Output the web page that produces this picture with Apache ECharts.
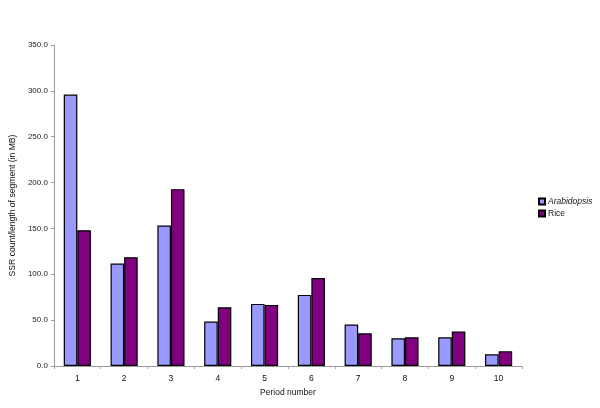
<!DOCTYPE html>
<html>
<head>
<meta charset="utf-8">
<script src="https://cdn.jsdelivr.net/npm/echarts@6/dist/echarts.min.js"></script>
<style>html,body{margin:0;padding:0;background:#fff;}#c{width:600px;height:408px;}</style>
</head>
<body>
<div id="c"></div>
<script>
var categories = ['1','2','3','4','5','6','7','8','9','10'];
var arabidopsis = [296, 111.7, 153.2, 48.4, 67.7, 77.5, 45.2, 30.2, 31.3, 12.8];
var rice = [148, 118.6, 192.8, 64, 66.6, 96, 35.7, 31.3, 37.5, 16];
var yTicks = [0, 50, 100, 150, 200, 250, 300, 350];
var seriesNames = ['Arabidopsis', 'Rice'];

var font = 'Liberation Sans, Helvetica, Arial, sans-serif';
var chart = echarts.init(document.getElementById('c'), null, {renderer: 'canvas'});
chart.setOption({
  animation: false,
  backgroundColor: '#fff',
  textStyle: {fontFamily: font},
  grid: {left: 52, right: 78, top: 45, bottom: 42, containLabel: false},
  legend: {
    orient: 'vertical',
    left: 533,
    top: 192,
    itemWidth: 6,
    itemHeight: 6,
    itemGap: 3,
    icon: 'rect',
    textStyle: {fontSize: 8.5, color: '#111', fontFamily: font, padding: [0,0,0,-2]},
    data: [
      {name: seriesNames[0], textStyle: {fontStyle: 'italic'}},
      {name: seriesNames[1]}
    ]
  },
  xAxis: {
    type: 'category',
    data: categories,
    name: 'Period number',
    nameLocation: 'middle',
    nameGap: 22,
    nameTextStyle: {fontSize: 8.5, color: '#111', fontFamily: font},
    axisLine: {lineStyle: {color: '#999', width: 1}},
    axisTick: {show: true, alignWithLabel: false, length: 3, lineStyle: {color: '#aaa'}},
    axisLabel: {fontSize: 8.5, color: '#111', margin: 8, fontFamily: font}
  },
  yAxis: {
    type: 'value',
    min: yTicks[0],
    max: yTicks[yTicks.length - 1],
    interval: yTicks[1] - yTicks[0],
    name: 'SSR count/length of segment (in MB)',
    nameLocation: 'middle',
    nameRotate: 90,
    nameGap: 33,
    nameTextStyle: {fontSize: 8.6, color: '#111', fontFamily: font},
    splitLine: {show: false},
    axisLine: {show: true, lineStyle: {color: '#999', width: 1}},
    axisTick: {show: true, length: 3, lineStyle: {color: '#999'}},
    axisLabel: {fontSize: 8, color: '#222', margin: 6, fontFamily: font,
      formatter: function (v) { return v.toFixed(1); }}
  },
  series: [
    {
      name: seriesNames[0], type: 'bar', data: arabidopsis,
      barGap: '0%', barCategoryGap: '42%',
      itemStyle: {color: '#9999FF', borderColor: '#000', borderWidth: 1.2}
    },
    {
      name: seriesNames[1], type: 'bar', data: rice,
      barGap: '0%', barCategoryGap: '42%',
      itemStyle: {color: '#800080', borderColor: '#000', borderWidth: 1.2}
    }
  ]
});
</script>
</body>
</html>
